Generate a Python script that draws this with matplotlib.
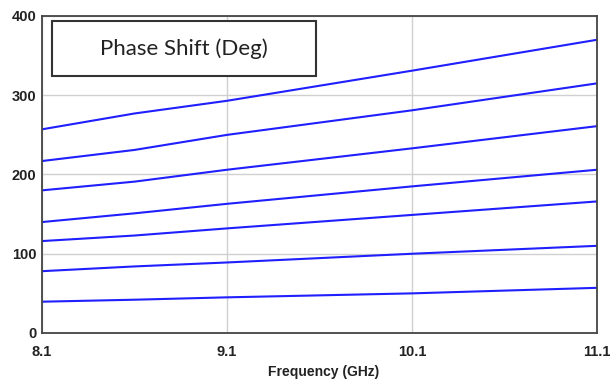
import matplotlib
matplotlib.use("Agg")
import matplotlib.pyplot as plt
from matplotlib.patches import Rectangle

freq = [8.1, 8.6, 9.1, 10.1, 11.1]
s1 = [257, 277, 293, 331, 370]
s2 = [217, 231, 250, 281, 315]
s3 = [180, 191, 206, 233, 261]
s4 = [140, 151, 163, 185, 206]
s5 = [116, 123, 132, 149, 166]
s6 = [78, 84, 89, 100, 110]
s7 = [39.5, 42, 45, 50, 57]
series = [s1, s2, s3, s4, s5, s6, s7]
xticks = [8.1, 9.1, 10.1, 11.1]
yticks = [0, 100, 200, 300, 400]

fig = plt.figure(figsize=(6.11, 3.80), dpi=100)
ax = fig.add_axes([42/611, 47/380, 555/611, 317/380])
for s in series:
    ax.plot(freq, s, color="#1f1fff", lw=1.5)
ax.set_xlim(8.1, 11.1)
ax.set_ylim(0, 400)
ax.set_xticks(xticks)
ax.set_xticklabels([str(t) for t in xticks])
ax.set_yticks(yticks)
ax.grid(True, color="#d0d0d0", lw=1.0)
ax.set_axisbelow(True)
ax.tick_params(length=0, labelsize=10.5)
ax.tick_params(axis="x", pad=9)
ax.tick_params(axis="y", pad=4)
for lab in ax.get_xticklabels() + ax.get_yticklabels():
    lab.set_fontfamily("Liberation Sans")
    lab.set_fontweight("bold")
    lab.set_color("#222222")
for sp in ax.spines.values():
    sp.set_color("#444444")
    sp.set_linewidth(1.3)
fig.text(324/611, 8/380, "Frequency (GHz)", ha="center", va="center",
         fontfamily="Liberation Sans", fontweight="bold", fontsize=10, color="#222222")
ax.add_patch(Rectangle((0.018, 0.811), 0.476, 0.173, transform=ax.transAxes,
                       fc="white", ec="#333333", lw=1.5, zorder=5))
ax.text(0.256, 0.897, "Phase Shift (Deg)", transform=ax.transAxes, ha="center", va="center",
        fontfamily="Lato", fontsize=16, color="#222222", zorder=6)
fig.savefig("out.png", dpi=100)
